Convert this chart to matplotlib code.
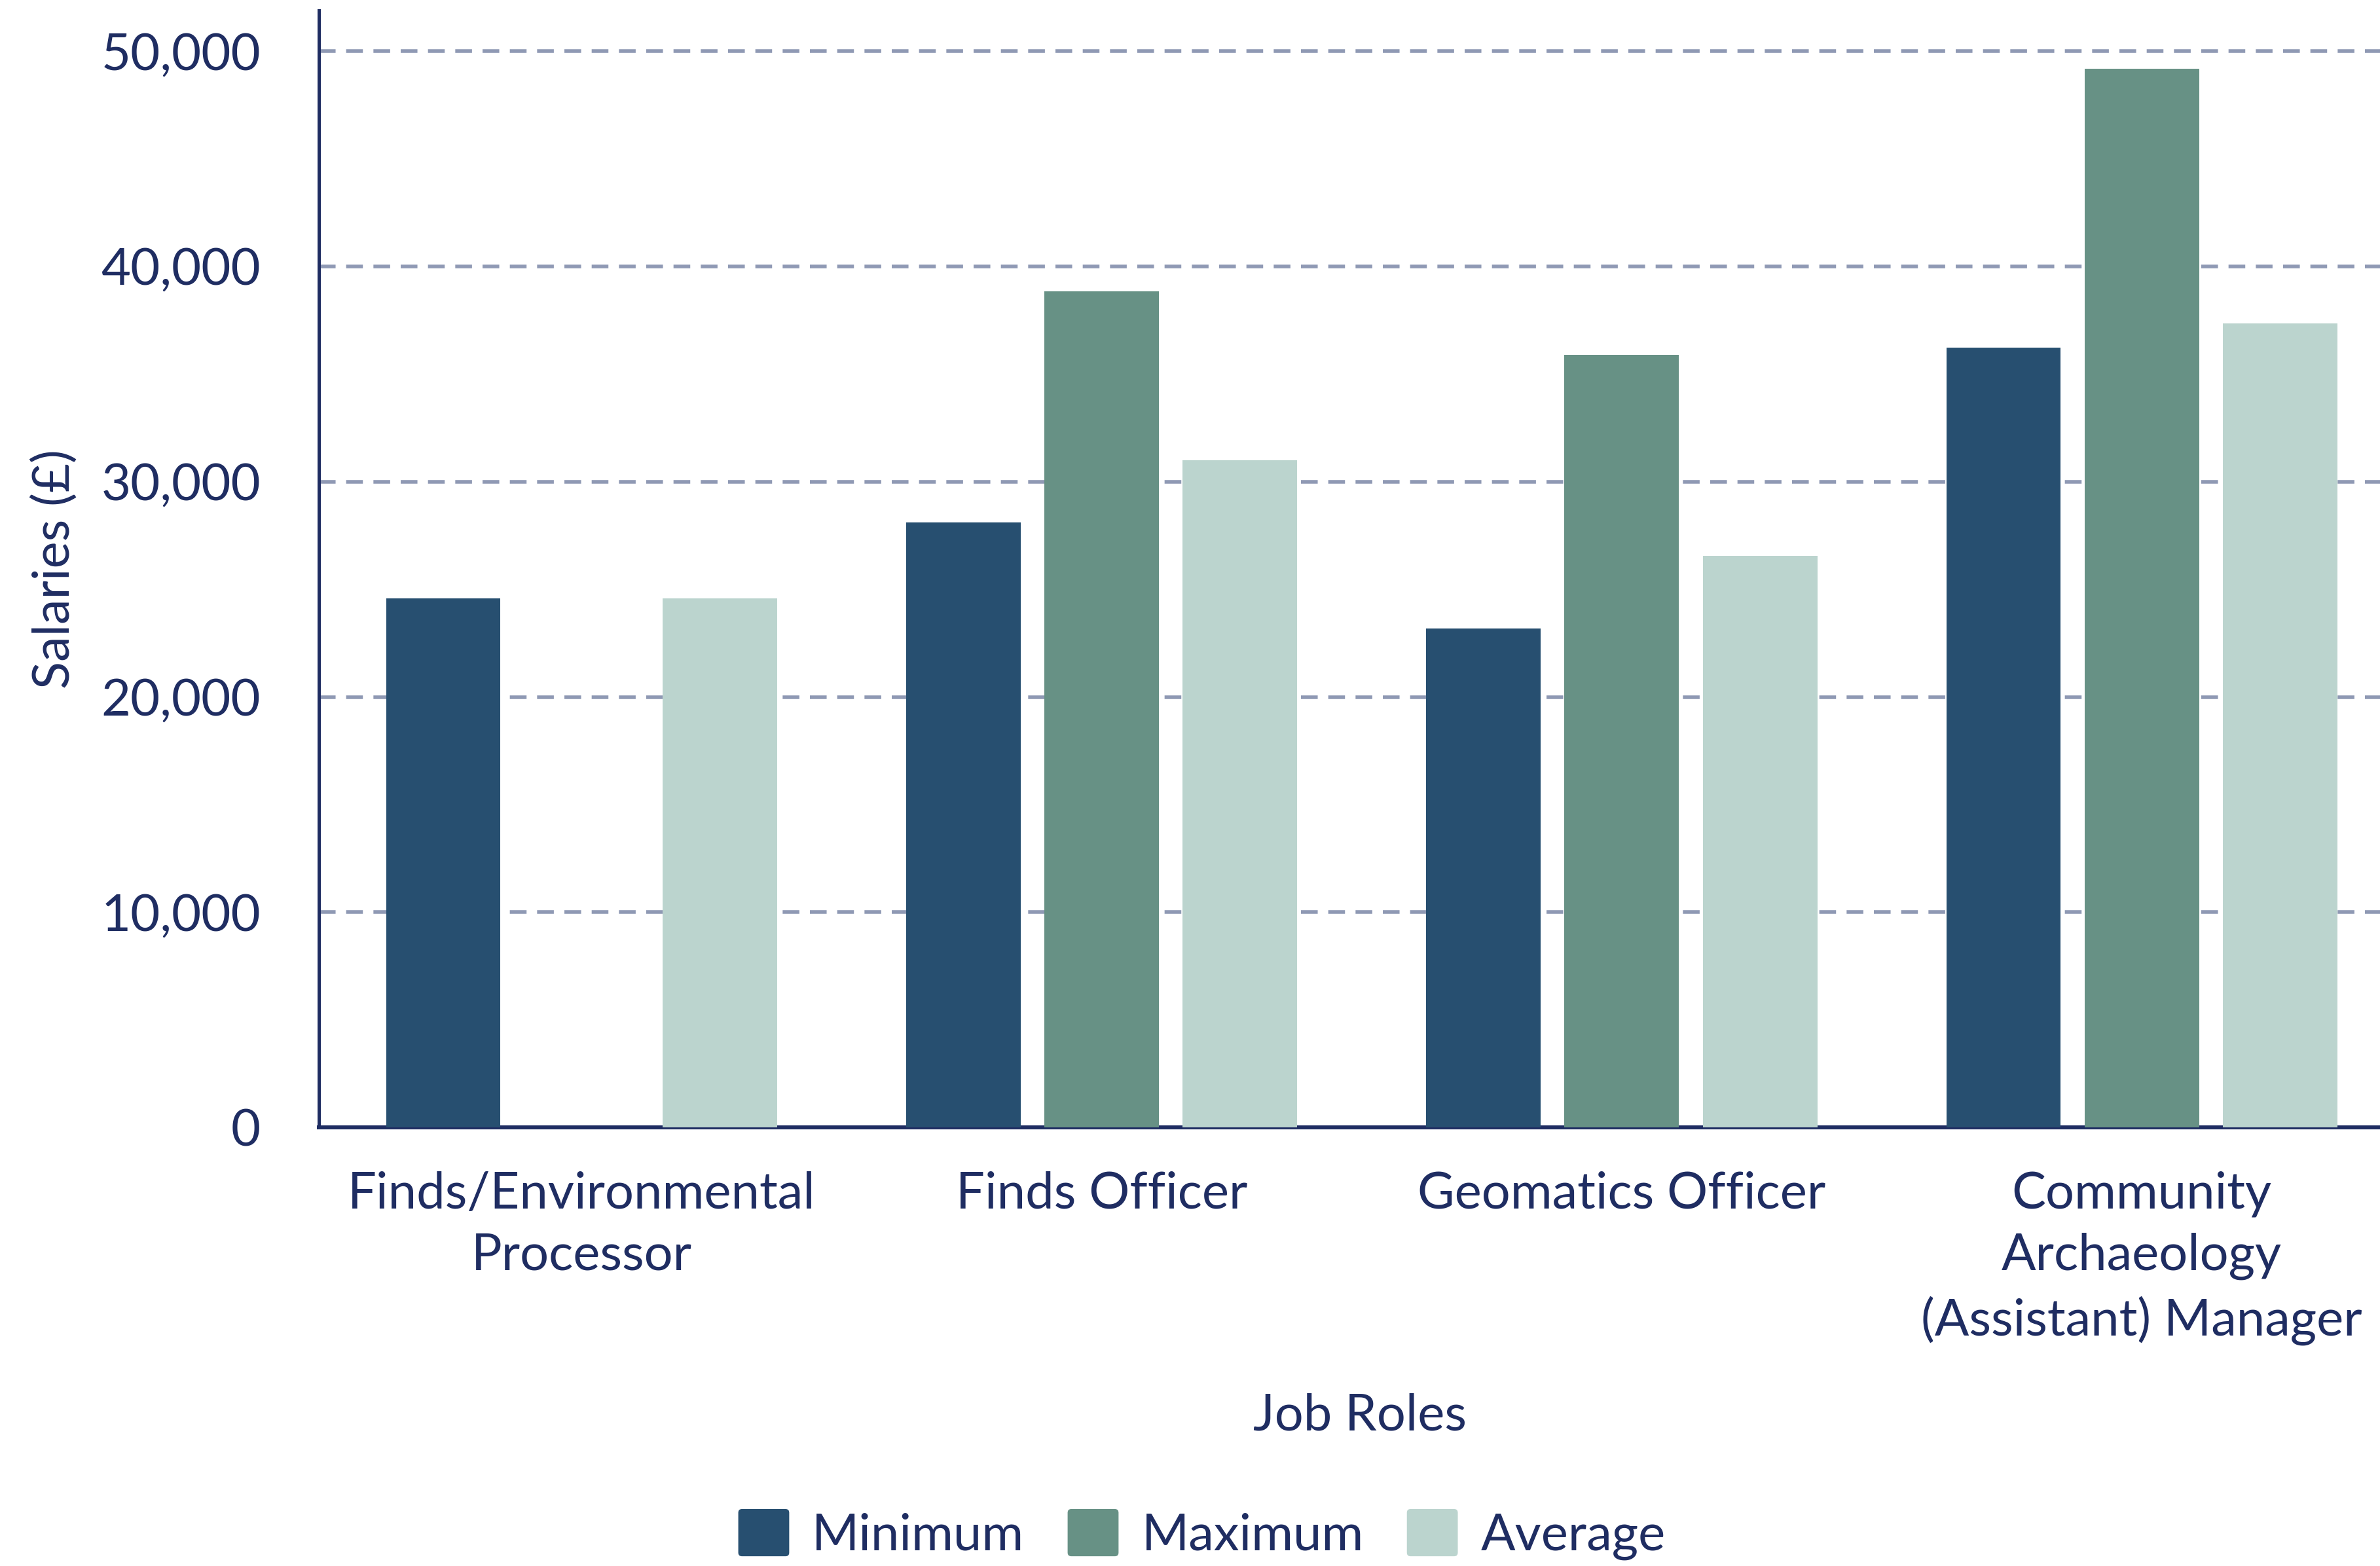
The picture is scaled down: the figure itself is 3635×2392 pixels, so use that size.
import numpy as np
import matplotlib
matplotlib.use('Agg')
from matplotlib import pyplot as plt
from matplotlib.patches import FancyBboxPatch, Patch
from matplotlib.legend_handler import HandlerPatch

# job roles and salary figures (GBP)
roles = ['Finds/Environmental\nProcessor', 'Finds Officer', 'Geomatics Officer',
         'Community\nArchaeology\n(Assistant) Manager']
minimum = [24600, 28100, 23200, 36250]
maximum = [0, 38850, 35900, 49200]
average = [24600, 31000, 26550, 37350]

series_names = ['Minimum', 'Maximum', 'Average']
colours = ['#274f70', '#679185', '#bbd4ce']

text_col = '#1f2d62'
grid_col = '#8f99b4'


class RoundBox(HandlerPatch):
    # legend swatches with slightly rounded corners
    def create_artists(self, legend, orig_handle, xdescent, ydescent, width, height, fontsize, trans):
        p = FancyBboxPatch((-xdescent, -ydescent), width, height,
                           boxstyle='round,pad=0,rounding_size=2',
                           facecolor=orig_handle.get_facecolor(), edgecolor='none', transform=trans)
        return [p]


plt.rcParams['font.family'] = ['Lato', 'DejaVu Sans']
plt.rcParams['font.size'] = 28

fig = plt.figure(figsize=(18.175, 11.96), dpi=200)
ax = fig.add_axes([0.134, 0.28, 0.866, 0.7133])

x = np.arange(len(roles))
step = 0.266
width = 0.22
for i, vals in enumerate([minimum, maximum, average]):
    ax.bar(x + (i - 1) * step, vals, width, color=colours[i], zorder=3)

ax.set_xlim(-0.505, 3.458)
ax.set_ylim(0, 51900)
ax.set_yticks(np.arange(0, 50001, 10000))
ax.yaxis.set_major_formatter(matplotlib.ticker.FuncFormatter(lambda v, p: f'{int(v):,}'))
ax.set_xticks(x)
ax.set_xticklabels(roles, linespacing=1.4)

ax.grid(axis='y', color=grid_col, linewidth=2, linestyle=(0, (4.6, 2.9)), zorder=0)
ax.grid(axis='x', visible=False)

for s in ['top', 'right']:
    ax.spines[s].set_visible(False)
ax.spines['left'].set_color(text_col)
ax.spines['left'].set_linewidth(1.8)
ax.spines['bottom'].set_color(text_col)
ax.spines['bottom'].set_linewidth(2.2)

ax.tick_params(axis='y', length=0, pad=32, colors=text_col)
ax.tick_params(axis='x', length=0, pad=24, colors=text_col)

ax.set_ylabel('Salaries (£)', color=text_col, labelpad=12.5)
ax.set_xlabel('Job Roles', color=text_col, labelpad=26)
ax.xaxis.label.set_x(0.505)

handles = [Patch(facecolor=c) for c in colours]
leg = fig.legend(handles, series_names, loc='lower center', bbox_to_anchor=(0.505, -0.019), ncol=3,
                 frameon=False, handlelength=1.0, handleheight=1.05, handletextpad=0.45,
                 columnspacing=0.85, borderpad=0.2, handler_map={Patch: RoundBox()})
for t in leg.get_texts():
    t.set_color(text_col)

fig.savefig('out.png', dpi=200)
